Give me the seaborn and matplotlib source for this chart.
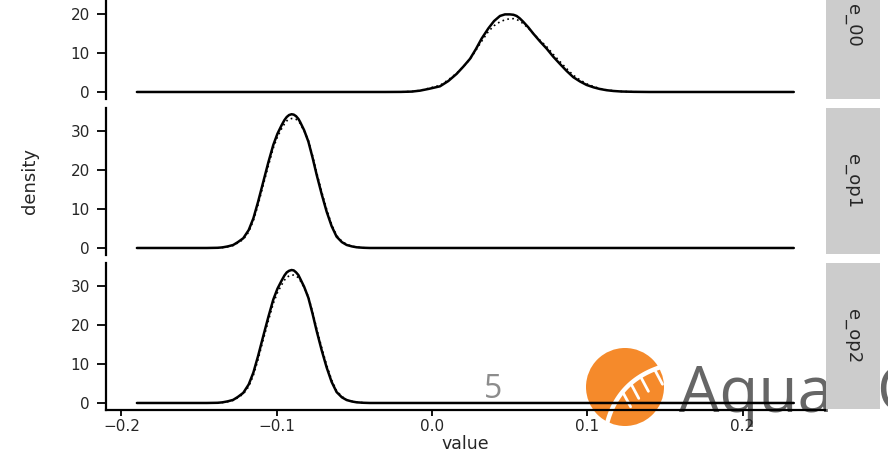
import numpy as np
import pandas as pd
import matplotlib
matplotlib.use('Agg')
import matplotlib.pyplot as plt
from matplotlib.patches import Circle
import seaborn as sns

# density curves (value -> density)
x_e00 = [-0.19, -0.03, -0.02, -0.013, -0.0077, -0.002, 0.0052, 0.0105, 0.0159,
         0.0202, 0.0245, 0.0283, 0.032, 0.0363, 0.040, 0.0438, 0.047, 0.0502,
         0.0525, 0.0545, 0.0565, 0.0588, 0.062, 0.0652, 0.0695, 0.0739, 0.078,
         0.0824, 0.0867, 0.091, 0.0953, 0.0996, 0.104, 0.108, 0.1125, 0.1168,
         0.122, 0.13, 0.14, 0.233]
solid_e00 = [0, 0, 0.02, 0.1, 0.34, 0.8, 1.46, 2.8, 4.65,
             6.5, 8.5, 11.0, 13.7, 16.3, 18.2, 19.5, 19.9, 19.9,
             19.8, 19.5, 18.9, 18.0, 16.6, 15.0, 13.0, 11.1, 9.1,
             7.2, 5.4, 3.8, 2.7, 1.8, 1.2, 0.78, 0.45, 0.26,
             0.12, 0.04, 0, 0]
dotted_e00 = [0, 0, 0.03, 0.13, 0.4, 0.95, 1.7, 3.1, 4.8,
              6.5, 8.4, 10.7, 13.0, 15.5, 17.0, 18.0, 18.5, 18.8,
              18.8, 18.6, 18.2, 17.5, 16.4, 15.0, 13.3, 11.6, 9.7,
              7.8, 6.0, 4.3, 3.1, 2.1, 1.4, 0.9, 0.55, 0.3,
              0.14, 0.05, 0, 0]

x_op = [-0.19, -0.145, -0.138, -0.135, -0.1315, -0.128, -0.125, -0.1215,
        -0.118, -0.115, -0.112, -0.1086, -0.1054, -0.1022, -0.0995, -0.0968,
        -0.095, -0.0935, -0.092, -0.0904, -0.089, -0.0875, -0.086, -0.085,
        -0.0823, -0.0796, -0.0769, -0.0742, -0.071, -0.0678, -0.0646, -0.0614,
        -0.058, -0.0549, -0.0515, -0.0485, -0.044, -0.04, 0.233]
solid_op1 = [0, 0, 0.05, 0.15, 0.4, 0.77, 1.5, 2.5, 4.6, 7.6, 11.8, 17.0, 21.9,
             26.4, 29.3, 31.5, 32.8, 33.6, 34.1, 34.3, 34.2, 33.8, 33.1, 32.4,
             30.2, 27.3, 23.2, 18.7, 13.8, 9.3, 5.6, 2.9, 1.5, 0.77, 0.4, 0.18,
             0.05, 0, 0]
dotted_op1 = [0, 0, 0.04, 0.12, 0.33, 0.65, 1.3, 2.2, 4.1, 7.0, 11.0, 16.2, 21.0,
              25.6, 28.5, 30.6, 31.8, 32.6, 33.0, 33.2, 33.2, 33.0, 32.5, 32.0,
              30.0, 27.6, 23.7, 19.3, 14.4, 9.9, 6.0, 3.2, 1.7, 0.9, 0.45, 0.22,
              0.06, 0, 0]
solid_op2 = [0, 0, 0.05, 0.16, 0.42, 0.8, 1.55, 2.6, 4.75, 7.8, 12.0, 17.2, 22.0,
             26.5, 29.3, 31.4, 32.7, 33.5, 33.9, 34.1, 34.0, 33.5, 32.8, 32.0,
             29.8, 27.0, 22.9, 18.4, 13.5, 9.1, 5.4, 2.8, 1.45, 0.75, 0.38, 0.17,
             0.05, 0, 0]
dotted_op2 = [0, 0, 0.04, 0.13, 0.35, 0.68, 1.35, 2.3, 4.2, 7.1, 11.1, 16.3, 21.0,
              25.5, 28.3, 30.3, 31.5, 32.2, 32.6, 32.8, 32.8, 32.6, 32.1, 31.5,
              29.6, 27.3, 23.4, 19.0, 14.2, 9.7, 5.9, 3.1, 1.65, 0.85, 0.43, 0.2,
              0.06, 0, 0]

facets = ['e_00', 'e_op1', 'e_op2']
x_ticks = [-0.2, -0.1, 0.0, 0.1, 0.2]
x_ticklabels = ['\u22120.2', '\u22120.1', '0.0', '0.1', '0.2']
y_ticks = {'e_00': [0, 10, 20], 'e_op1': [0, 10, 20, 30], 'e_op2': [0, 10, 20, 30]}

rows = []
for fac, xs, ys_s, ys_d in [('e_00', x_e00, solid_e00, dotted_e00),
                            ('e_op1', x_op, solid_op1, dotted_op1),
                            ('e_op2', x_op, solid_op2, dotted_op2)]:
    for xv, yv in zip(xs, ys_s):
        rows.append((fac, 'solid', xv, yv))
    for xv, yv in zip(xs, ys_d):
        rows.append((fac, 'dotted', xv, yv))
df = pd.DataFrame(rows, columns=['facet', 'line', 'value', 'density'])

sns.set_style('white')
plt.rcParams['font.family'] = ['DejaVu Sans']

W, H = 888, 454
fig = plt.figure(figsize=(W / 100, H / 100), dpi=100)


def box(left, top, right, bottom):
    return [left / W, 1 - bottom / H, (right - left) / W, (bottom - top) / H]


# slide decoration behind the chart
bg = fig.add_axes([0, 0, 1, 1], zorder=0)
bg.set_xlim(0, W)
bg.set_ylim(H, 0)
bg.axis('off')
bg.add_patch(Circle((625, 387), 39, color='#f58a2b', lw=0))
t = np.linspace(0, 1, 30)
bx = (1 - t) ** 2 * 606 + 2 * (1 - t) * t * 616 + t ** 2 * 664
by = (1 - t) ** 2 * 428 + 2 * (1 - t) * t * 380 + t ** 2 * 366
bg.plot(bx, by, color='white', lw=3.2, solid_capstyle='butt')
for tt in [0.45, 0.6, 0.75, 0.9]:
    i = int(tt * 29)
    bg.plot([bx[i], bx[i] + 8], [by[i], by[i] + 15], color='white', lw=2)
bg.text(679, 412, 'Aqua', fontsize=46, color='#666666', family='Open Sans',
        va='baseline', ha='left')
bg.text(876, 412, 'G', fontsize=46, color='#666666', family='Open Sans',
        va='baseline', ha='left')
bg.text(484, 398, '5', fontsize=23, color='#8c8c8c', family='Open Sans',
        va='baseline', ha='left')

panel_boxes = [(106, -48, 825, 99), (106, 108, 825, 255), (106, 263, 825, 410)]
strip_boxes = [(826, -48, 880, 99), (826, 108, 880, 254), (826, 263, 880, 409)]

for k, fac in enumerate(facets):
    ax = fig.add_axes(box(*panel_boxes[k]), zorder=1)
    ax.set_facecolor('none')
    sub = df[df['facet'] == fac]
    sns.lineplot(data=sub[sub['line'] == 'solid'], x='value', y='density',
                 color='black', lw=1.8, ax=ax, sort=False)
    sns.lineplot(data=sub[sub['line'] == 'dotted'], x='value', y='density',
                 color='black', lw=1.2, ax=ax, sort=False, linestyle=(0, (1, 2)))
    ax.set_xlim(-0.2099, 0.2531)
    ax.set_ylim(-1.8, 35.9)
    ax.set_yticks(y_ticks[fac])
    ax.set_yticklabels([str(v) for v in y_ticks[fac]])
    ax.tick_params(axis='y', length=6.5, width=1.3, color='black', pad=5,
                   labelsize=11, left=True)
    for s in ['top', 'right']:
        ax.spines[s].set_visible(False)
    ax.spines['left'].set_linewidth(1.6)
    ax.spines['left'].set_color('black')
    ax.set_ylabel('')
    if k < 2:
        ax.spines['bottom'].set_visible(False)
        ax.set_xticks([])
        ax.set_xlabel('')
    else:
        ax.spines['bottom'].set_linewidth(1.6)
        ax.spines['bottom'].set_color('black')
        ax.set_xticks(x_ticks)
        ax.set_xticklabels(x_ticklabels)
        ax.tick_params(axis='x', length=4.5, width=1.3, color='black', pad=2,
                       labelsize=11, bottom=True)
        ax.set_xlabel('value', fontsize=12.5, labelpad=1)

    st = fig.add_axes(box(*strip_boxes[k]), zorder=2)
    st.set_facecolor('#cccccc')
    st.set_xticks([])
    st.set_yticks([])
    for s in st.spines.values():
        s.set_visible(False)
    st.text(0.5, 0.5, fac, rotation=270, ha='center', va='center',
            fontsize=13, family=['Liberation Sans Narrow', 'DejaVu Sans'],
            transform=st.transAxes)

fig.text(30 / W, 1 - 181 / H, 'density', rotation=90, ha='center', va='center',
         fontsize=13, family=['Liberation Sans Narrow', 'DejaVu Sans'])

fig.savefig('out.png', dpi=100)
